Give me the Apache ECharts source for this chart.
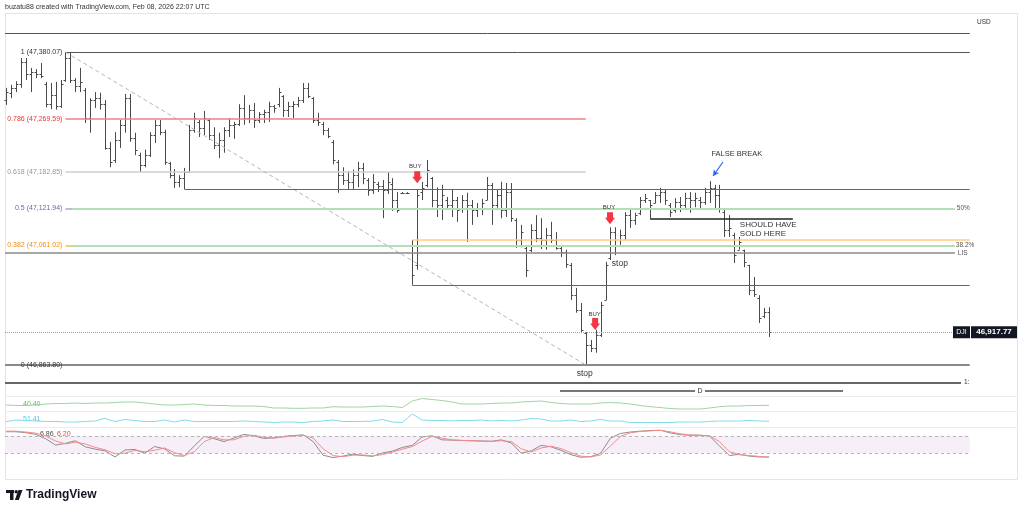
<!DOCTYPE html>
<html><head><meta charset="utf-8">
<script src="https://cdn.jsdelivr.net/npm/echarts@6/dist/echarts.min.js"></script>
<style>html,body{margin:0;padding:0;background:#fff}#c{width:1024px;height:512px}</style>
</head><body><div id="c"></div>
<script>
// ---------- DATA (DJI, OHLC bars) ----------
const opens=[47301,47313,47321,47327,47364,47344,47347,47344,47327,47294,
47309,47291,47334,47370,47334,47324,47318,47271,47301,47304,
47294,47222,47202,47235,47260,47304,47238,47210,47194,47210,
47243,47260,47248,47197,47177,47166,47172,47182,47252,47265,
47255,47268,47243,47227,47235,47252,47260,47261,47288,47271,
47285,47268,47278,47281,47291,47294,47308,47285,47291,47294,
47301,47321,47304,47268,47261,47252,47232,47199,47177,47169,
47166,47177,47189,47169,47153,47162,47159,47153,47162,47136,
47148,47148,47062,47029,47149,47161,47172,47136,47128,47136,
47128,47136,47123,47136,47128,47120,47123,47136,47161,47128,
47144,47120,47149,47103,47070,47057,47054,47087,47073,47070,
47078,47070,47057,47050,47029,46979,46955,46917,46897,46892,
46913,46971,47040,47083,47062,47078,47111,47103,47115,47136,
47136,47131,47144,47149,47128,47120,47133,47128,47139,47136,
47136,47133,47149,47156,47144,47116,47087,47078,47054,47054,
47029,46988,46974,46945,46951];
const highs=[47321,47326,47332,47370,47370,47354,47352,47362,47331,47329,
47331,47334,47380.07,47379,47337,47354,47321,47304,47314,47313,
47301,47232,47248,47268,47311,47311,47247,47214,47219,47248,
47268,47268,47252,47199,47187,47177,47189,47260,47280,47268,
47283,47270,47256,47247,47256,47271,47265,47294,47309,47293,
47296,47281,47285,47298,47293,47321,47309,47298,47299,47306,
47329,47329,47306,47280,47265,47255,47235,47202,47190,47184,
47186,47199,47197,47172,47179,47166,47169,47182,47172,47149,
47149,47149,47070,47154,47166,47202,47174,47157,47161,47141,
47153,47141,47144,47148,47136,47131,47138,47174,47164,47154,
47166,47164,47164,47106,47095,47060,47096,47111,47106,47090,
47100,47083,47062,47054,47032,46991,46966,46918,46905,46922,
46968,47034,47091,47091,47087,47116,47123,47115,47141,47146,
47136,47149,47156,47153,47131,47139,47141,47148,47149,47148,
47141,47156,47167,47161,47161,47120,47111,47082,47075,47054,
47029,47009,46979,46958,46959];
const lows=[47293,47304,47314,47321,47334,47314,47337,47337,47289,47286,
47285,47288,47331,47329,47314,47314,47263,47247,47288,47285,
47219,47190,47197,47222,47247,47232,47210,47182,47190,47207,
47230,47243,47194,47172,47156,47157,47154,47182,47247,47240,
47243,47235,47220,47205,47214,47240,47237,47258,47260,47263,
47255,47263,47263,47265,47280,47289,47273,47273,47271,47289,
47296,47304,47263,47258,47243,47238,47195,47148,47161,47154,
47153,47157,47162,47143,47146,47149,47106,47146,47118,47115,
47146,47146,46996,47021,47136,47157,47124,47108,47103,47120,
47108,47100,47115,47067,47095,47108,47111,47136,47095,47123,
47106,47108,47100,47057,47058,47009,47050,47067,47055,47054,
47065,47054,47042,47024,46971,46950,46918,46863.80,46885,46884,
46910,46971,47037,47045,47062,47070,47090,47095,47111,47131,
47105,47131,47131,47128,47108,47115,47116,47123,47115,47124,
47120,47128,47131,47120,47115,47075,47075,47032,47054,47025,
46979,46976,46933,46941,46910];
const closes=[47314,47321,47327,47364,47344,47347,47344,47341,47294,47309,
47291,47327,47370,47334,47324,47331,47271,47301,47304,47294,
47222,47199,47235,47260,47304,47238,47219,47194,47210,47243,
47260,47248,47199,47177,47166,47172,47182,47252,47271,47255,
47271,47243,47227,47235,47252,47260,47261,47288,47271,47285,
47268,47278,47281,47291,47288,47314,47285,47291,47294,47301,
47321,47308,47268,47265,47252,47242,47202,47177,47169,47166,
47177,47189,47172,47153,47166,47159,47153,47166,47136,47120,
47148,47147,47012,47144,47156,47186,47136,47128,47144,47128,
47136,47120,47136,47128,47120,47123,47131,47161,47128,47144,
47120,47149,47106,47070,47083,47021,47087,47073,47070,47078,
47070,47057,47050,47030,46979,46955,46922,46897,46892,46913,
46963,47029,47083,47062,47078,47111,47103,47111,47136,47139,
47128,47144,47149,47136,47116,47133,47128,47139,47136,47139,
47133,47149,47156,47144,47123,47087,47090,47045,47067,47034,
46988,46981,46941,46951,46917.77];

// indicator panes, one reading every second bar
const greenVals=[41,40,40,41,43,44,44,45,44,45,
45,46,47,47,45,43,41,41,42,43,
41,40,40,39,39,39,38,35,35,34.4,
34.4,35,35,37.6,37,37,37,38,39,38,
36,49,54,52,50,47,43,43,43,44,
45,45,47,48,49,46,44,43,43,43,
45,46,45,43,40,37.6,36,34,33,33,
33,35,37.6,39,39,40,40,40.4];
const cyanVals=[50.6,54,53,52,51,51,50,50,51,52,
57.4,51,55,53,51,51,54,50,54,51,
51,51,51,51,52,51,50,49,50,50,
49,51,52,54,51,51,51,52,55,50,
49,66,54,53,53,52,53,53,54,52,
53,52,54,57,56,52,52,54,51,52,
55,52,52,49,49,49,49,49,50,50,
50,51,52,52,52,53,52,51.41];
const stochK=[94,94,91,85,70,48,54,63,42,34,
28,7,31,33,20,43,35,11,10,45,
78,70,60,72,85,80,71,73,78,81,
83,60,13,5,10,17,12,9,21,27,
40,47,76,80,66,65,64,63,62,61,
66,55,20,28,47,42,30,15,6,8,
20,72,88,93,96,98,100,90,84,82,
82,79,45,12,16,10,7,6.86];
const stochD=[96,96,93,89,80,62,52,58,52,40,
32,18,20,30,25,30,38,22,12,25,
60,74,66,66,78,82,75,72,76,79,
82,72,35,12,8,13,14,11,15,24,
34,43,62,78,72,66,64,63,62,61,
63,60,35,24,38,44,36,22,10,7,
14,45,78,90,95,97,99,94,87,83,
82,80,60,25,15,12,9,6.2];

const fibLevels=[1,0.786,0.618,0.5,0.382,0];
const fibPrices=[47380.07,47269.59,47182.85,47121.94,47061.02,46863.80];
const topLine=47411, supportLine=47154, lisLine=47049, boxLowLine=46996, orangeLine=47070, sellLine=47105;
const lastPrice=46917.77;

// ---------- CHART ----------
const FONT='Liberation Sans';
const chart=echarts.init(document.getElementById('c'));
const bars=opens.map((o,i)=>[i,o,highs[i],lows[i],closes[i]]);
const sampleIdx=greenVals.map((v,j)=>j*2);
const XL=3.52, XW=966.2;
const grids=[{left:XL,width:XW,top:15,height:368},{left:XL,width:XW,top:396,height:15},
 {left:XL,width:XW,top:412,height:15},{left:XL,width:XW,top:430,height:29}];
const xAxes=grids.map((g,k)=>({type:'value',gridIndex:k,min:-0.5,max:194.5,show:false}));
const yRanges=[[46834.05,47441.25],[29,59],[40,70],[0,100]];
const yAxes=yRanges.map((r,k)=>({type:'value',gridIndex:k,min:r[0],max:r[1],show:false}));

function renderOHLC(params,api){
  const i=api.value(0);
  const o=api.coord([i,api.value(1)]),h=api.coord([i,api.value(2)]),l=api.coord([i,api.value(3)]),c=api.coord([i,api.value(4)]);
  const x=Math.round(h[0])+0.5;
  let y1=h[1],y2=l[1];
  if(y2-y1<1.5){const m=(y1+y2)/2;y1=m-0.75;y2=m+0.75;}
  const st={stroke:'#4a4a4a',lineWidth:1};
  const yo=Math.round(o[1])+0.5, yc=Math.round(c[1])+0.5;
  return {type:'group',children:[
    {type:'line',shape:{x1:x,y1:y1,x2:x,y2:y2},style:st},
    {type:'line',shape:{x1:x-2,y1:yo,x2:x,y2:yo},style:st},
    {type:'line',shape:{x1:x,y1:yc,x2:x+2,y2:yc},style:st}]};
}
const fmt=v=>v.toLocaleString('en-US',{minimumFractionDigits:2,maximumFractionDigits:2});
const ml=[];
function hline(x1,x2,p,ls,label){ml.push([{coord:[x1,p],lineStyle:ls,label:label||{show:false}},{coord:[x2,p]}]);}
function lab(text,color,pos){return {show:true,position:pos||'start',formatter:text,color:color,fontSize:7,fontFamily:FONT,distance:3};}
// full width lines
hline(-0.2,194.5,topLine,{color:'#555',width:1,type:'solid'});
hline(-0.2,194.5,fibPrices[5],{color:'#8a8a8a',width:2,type:'solid'});
// fib retracement (from bar 12 high to bar 117 low)
const fibLine=[{color:'#555',width:1},{color:'#f08080',width:1.5},{color:'#cfcfcf',width:1.5},{color:'#b39ddb',width:1.5},{color:'#ffb74d',width:1.5},{color:'#8a8a8a',width:0}];
const fibText=['#333','#e53935','#9a9a9a','#7e57c2','#fb8c00','#333'];
fibLevels.forEach((lv,k)=>{
  const end=(k===0)?194.5:117;
  hline(12,end,fibPrices[k],Object.assign({type:'solid'},fibLine[k]),lab(lv+' ('+fmt(fibPrices[k])+')',fibText[k]));
});
ml.push([{coord:[12,fibPrices[0]],lineStyle:{color:'#b5b5b5',width:1,type:[4,3]},label:{show:false}},{coord:[117,fibPrices[5]]}]);
// second retracement (green)
hline(13.3,191.5,fibPrices[3],{color:'#b2dfb4',width:2,type:'solid'},{show:true,position:'end',formatter:'50%',color:'#555',fontSize:6.5,fontFamily:FONT,distance:2});
hline(82,194.5,orangeLine,{color:'#ffcc80',width:1.5,type:'solid'});
hline(13.3,191.5,fibPrices[4],{color:'#b2dfb4',width:2,type:'solid'},{show:true,position:'end',formatter:'38.2%',color:'#555',fontSize:6.5,fontFamily:FONT,distance:1});
hline(-0.2,191.5,lisLine,{color:'#8a8a8a',width:1.5,type:'solid'},{show:true,position:'end',formatter:'LIS',color:'#555',fontSize:6.5,fontFamily:FONT,distance:3});
hline(36,194.5,supportLine,{color:'#666',width:1.2,type:'solid'});
hline(82,194.5,boxLowLine,{color:'#666',width:1.2,type:'solid'});
hline(130,158.8,sellLine,{color:'#222',width:1.5,type:'solid'});
hline(-0.2,191.1,lastPrice,{color:'#a0a0a0',width:1,type:[1,1]});
ml.push([{coord:[144.7,47198.7],symbol:'none',lineStyle:{color:'#2962ff',width:1.2,type:'solid'},label:{show:false}},{coord:[142.7,47175.6],symbol:'arrow',symbolSize:[5,6]}]);

function txt(i,p,t,size,color,align){return {coord:[i,p],symbol:'rect',symbolSize:1,itemStyle:{color:'rgba(0,0,0,0)'},
  label:{show:true,position:'inside',formatter:t,fontSize:size,color:color||'#333',fontFamily:FONT,align:align||'center'}};}
const arrowPath='path://M2,0 L8,0 L8,5 L10,5 L5,11 L0,5 L2,5 Z';
function arr(i,p){return {coord:[i,p],symbol:arrowPath,symbolSize:[10,12],itemStyle:{color:'#f23645'},label:{show:false}};}
const mp=[
  txt(82.6,47192,'BUY',6),txt(121.7,47124,'BUY',6),txt(118.8,46947.4,'BUY',6),
  arr(83,47173.6),arr(121.9,47106),arr(118.9,46931.4),
  txt(123.9,47031.5,'stop',8.5),txt(116.8,46850,'stop',8.5),
  txt(147.5,47211.9,'FALSE BREAK',7.5),
  txt(148.1,47095.6,'SHOULD HAVE',8,'#333','left'),txt(148.1,47081,'SOLD HERE',8,'#333','left')
];

const idxPairs=(vals)=>vals.map((v,j)=>[sampleIdx[j],v]);
const lineS=(k,vals,color)=>({type:'line',xAxisIndex:k,yAxisIndex:k,data:idxPairs(vals),showSymbol:false,symbol:'none',
  lineStyle:{color:color,width:1},itemStyle:{color:color},silent:true,animation:false});

const series=[
 {type:'custom',xAxisIndex:0,yAxisIndex:0,data:bars,encode:{x:0,y:[1,2,3,4]},renderItem:renderOHLC,silent:true,animation:false,clip:false,
  markLine:{silent:true,animation:false,symbol:['none','none'],label:{show:false},emphasis:{disabled:true},data:ml},
  markPoint:{silent:true,animation:false,data:mp}},
 lineS(1,greenVals,'#9fd6a2'),
 lineS(2,cyanVals,'#7fdcea'),
 Object.assign(lineS(3,stochK,'#8c8c8c'),{
   markArea:{silent:true,itemStyle:{color:'#f7eff8'},data:[[{coord:[-0.2,80]},{coord:[194.5,20]}]]},
   markLine:{silent:true,animation:false,symbol:['none','none'],label:{show:false},
     lineStyle:{color:'#b5b5b5',width:1,type:[3,3]},data:[[{coord:[-0.2,80]},{coord:[194.5,80]}],[{coord:[-0.2,20]},{coord:[194.5,20]}]]}}),
 lineS(3,stochD,'#f58a8a')
];

chart.setOption({animation:false,backgroundColor:'#ffffff',grid:grids,xAxis:xAxes,yAxis:yAxes,series:series});

const yLast=chart.convertToPixel({yAxisIndex:0},lastPrice);
const T=(x,y,t,size,color,extra)=>({type:'text',x:x,y:y,silent:true,style:Object.assign({text:t,fontSize:size,fill:color,fontFamily:FONT,verticalAlign:'middle'},extra||{})});
const L=(x1,y1,x2,y2,color,w)=>({type:'line',silent:true,shape:{x1:x1,y1:y1,x2:x2,y2:y2},style:{stroke:color,lineWidth:w}});
chart.setOption({graphic:[
  T(5,7,'buzatu88 created with TradingView.com, Feb 08, 2026 22:07 UTC',7,'#333'),
  {type:'rect',silent:true,shape:{x:5.5,y:13.5,width:1012,height:466},style:{fill:'none',stroke:'#e4e4e4',lineWidth:1}},
  T(977,22,'USD',6.5,'#333'),
  L(5,383,961,383,'#666',2),
  T(964,382.5,'1:',6.5,'#333'),
  L(560,391,695,391,'#777',2),L(705,391,843,391,'#777',2),
  T(700,391,'D',7,'#333',{align:'center'}),
  L(5,396.5,1018,396.5,'#ededed',1),L(5,411.5,1018,411.5,'#ededed',1),L(5,427.5,1018,427.5,'#ededed',1),
  T(23,404.5,'40.40',7,'#66bb6a'),
  T(23,419.5,'51.41',7,'#4dd0e1'),
  T(40,434.5,'6.86',7,'#444'),T(57,434.5,'6.20',7,'#e53935'),
  {type:'rect',silent:true,shape:{x:953,y:yLast-6,width:17,height:12},style:{fill:'#131722'}},
  T(961.5,yLast,'DJI',7,'#fff',{align:'center'}),
  {type:'rect',silent:true,shape:{x:971,y:yLast-6,width:46,height:12},style:{fill:'#131722'}},
  T(994,yLast,fmt(lastPrice),8,'#fff',{align:'center',fontWeight:'bold'}),
  // TradingView logo
  {type:'rect',silent:true,shape:{x:6,y:490,width:8,height:3},style:{fill:'#131722'}},
  {type:'rect',silent:true,shape:{x:10,y:490,width:3.5,height:10},style:{fill:'#131722'}},
  {type:'circle',silent:true,shape:{cx:16.2,cy:491.7,r:1.7},style:{fill:'#131722'}},
  {type:'polygon',silent:true,shape:{points:[[18.5,490],[22.5,490],[18.8,500],[14.8,500]]},style:{fill:'#131722'}},
  T(26,495,'TradingView',12,'#131722',{fontWeight:'bold'})
]});
</script></body></html>
